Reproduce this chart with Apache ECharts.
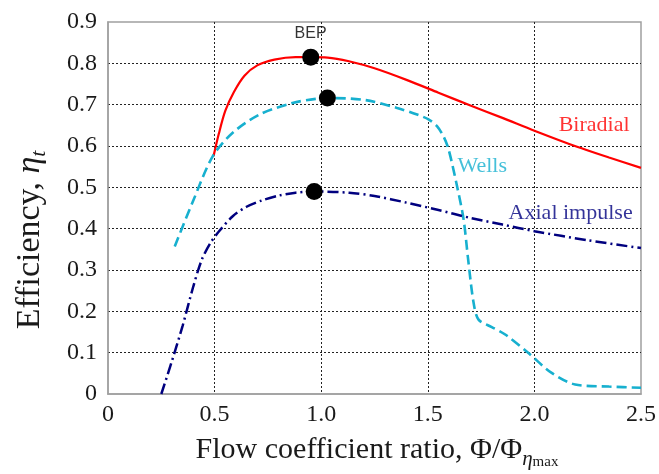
<!DOCTYPE html>
<html>
<head>
<meta charset="utf-8">
<script src="https://cdn.jsdelivr.net/npm/echarts@6/dist/echarts.min.js"></script>
<style>html,body{margin:0;padding:0;background:#fff}#c{width:659px;height:474px}</style>
</head>
<body>
<div id="c"></div>
<script>
// ---- data ----
const xTickLabels = ['0', '0.5', '1.0', '1.5', '2.0', '2.5'];
const yTickLabels = ['0', '0.1', '0.2', '0.3', '0.4', '0.5', '0.6', '0.7', '0.8', '0.9'];

const biradial = [
  [0.495, 0.575], [0.52, 0.630], [0.55, 0.685], [0.59, 0.730], [0.64, 0.770],
  [0.70, 0.795], [0.78, 0.809], [0.88, 0.815], [0.951, 0.815], [1.03, 0.814],
  [1.13, 0.805], [1.25, 0.788], [1.40, 0.760], [1.55, 0.729], [1.70, 0.698],
  [1.85, 0.668], [2.00, 0.637], [2.20, 0.598], [2.35, 0.572], [2.5, 0.547]
];
const wells = [
  [0.313, 0.357], [0.40, 0.468], [0.491, 0.575], [0.585, 0.632], [0.71, 0.676],
  [0.865, 0.704], [0.975, 0.714], [1.05, 0.716], [1.209, 0.711], [1.356, 0.692],
  [1.45, 0.676], [1.505, 0.664], [1.543, 0.648], [1.575, 0.622], [1.598, 0.591],
  [1.637, 0.503], [1.668, 0.422], [1.69, 0.322], [1.715, 0.220], [1.738, 0.180],
  [1.80, 0.162], [1.863, 0.144], [1.972, 0.099], [2.081, 0.051], [2.191, 0.023],
  [2.35, 0.018], [2.5, 0.015]
];
const axialImpulse = [
  [0.25, 0.0], [0.30, 0.080], [0.35, 0.165], [0.40, 0.260], [0.44, 0.325],
  [0.48, 0.365], [0.52, 0.393], [0.585, 0.430], [0.65, 0.453], [0.72, 0.468],
  [0.80, 0.480], [0.88, 0.487], [0.967, 0.490], [1.131, 0.487], [1.25, 0.479],
  [1.40, 0.463], [1.55, 0.445], [1.70, 0.426], [1.85, 0.410], [2.00, 0.394],
  [2.25, 0.372], [2.5, 0.353]
];
const bepPoints = [[0.951, 0.815], [1.029, 0.716], [0.967, 0.490]];

const seriesNames = ['Biradial', 'Wells', 'Axial impulse'];
const bepLabel = 'BEP';
// label anchor positions (data coordinates)
const labelPos = { 'Biradial': [2.28, 0.650], 'Wells': [1.755, 0.552], 'Axial impulse': [2.17, 0.437], 'BEP': [0.950, 0.871] };

// ---- style ----
const RED = '#ff0000', CYAN = '#17b0cf', NAVY = '#00007f';
const SERIF = '"Liberation Serif", "DejaVu Serif", serif';

const chart = echarts.init(document.getElementById('c'), null, { renderer: 'canvas' });

const gridDotted = { show: true, showMinLine: false, showMaxLine: false, lineStyle: { color: '#222', width: 1, type: [2, 2] } };

const labelData = [
  { name: seriesNames[0], value: labelPos['Biradial'], label: { color: RED } },
  { name: seriesNames[1], value: labelPos['Wells'], label: { color: CYAN } },
  { name: seriesNames[2], value: labelPos['Axial impulse'], label: { color: NAVY } }
];

chart.setOption({
  animation: false,
  backgroundColor: '#ffffff',
  grid: { left: 108, right: 16, top: 22, bottom: 80, show: true, borderColor: '#a0a0a0', borderWidth: 1.5, backgroundColor: 'transparent' },
  xAxis: {
    type: 'value', min: 0, max: 2.5, interval: 0.5,
    axisLine: { show: true, lineStyle: { color: '#a0a0a0', width: 1.5 } },
    axisTick: { show: false },
    axisLabel: { margin: 9, fontFamily: SERIF, fontSize: 24, color: '#1a1a1a',
      formatter: v => xTickLabels[Math.round(v / 0.5)] },
    splitLine: gridDotted
  },
  yAxis: {
    type: 'value', min: 0, max: 0.9, interval: 0.1,
    axisLine: { show: true, lineStyle: { color: '#a0a0a0', width: 1.5 } },
    axisTick: { show: false },
    axisLabel: { margin: 11, fontFamily: SERIF, fontSize: 24, color: '#1a1a1a',
      formatter: v => yTickLabels[Math.round(v / 0.1)] },
    splitLine: gridDotted
  },
  series: [
    { name: seriesNames[0], type: 'line', data: biradial, showSymbol: false, smooth: 0.3, z: 3,
      lineStyle: { color: RED, width: 2.2 } },
    { name: seriesNames[1], type: 'line', data: wells, showSymbol: false, smooth: 0.3, z: 3,
      lineStyle: { color: CYAN, width: 2.6, type: [10, 5] } },
    { name: seriesNames[2], type: 'line', data: axialImpulse, showSymbol: false, smooth: 0.3, z: 3,
      lineStyle: { color: NAVY, width: 2.5, type: [11, 4, 2, 4] } },
    { name: 'BEP', type: 'scatter', data: bepPoints, symbol: 'circle', symbolSize: 17, z: 5,
      itemStyle: { color: '#000', opacity: 1 } },
    { name: 'labels', type: 'scatter', data: labelData, symbolSize: 0, z: 6, silent: true,
      label: { show: true, position: 'inside', formatter: p => p.name, fontFamily: SERIF, fontSize: 22 } },
    { name: 'bepText', type: 'scatter', data: [{ name: bepLabel, value: labelPos['BEP'] }], symbolSize: 0, z: 6, silent: true,
      label: { show: true, position: 'inside', formatter: p => p.name, fontFamily: '"Liberation Sans", Arial, sans-serif', fontSize: 16, color: '#000' } }
  ],
  graphic: [
    { type: 'text', x: 377, y: 450, silent: true,
      style: {
        text: '{m|Flow coefficient ratio, Φ/Φ}{s|η}{ss|max}',
        align: 'center', verticalAlign: 'middle',
        rich: {
          m: { fontFamily: SERIF, fontSize: 30, lineHeight: 40, fill: '#1a1a1a', verticalAlign: 'middle' },
          s: { fontFamily: SERIF, fontSize: 21, fontStyle: 'italic', lineHeight: 24, fill: '#1a1a1a', verticalAlign: 'bottom' },
          ss: { fontFamily: SERIF, fontSize: 15, lineHeight: 6, fill: '#1a1a1a', verticalAlign: 'bottom' }
        }
      } },
    { type: 'text', x: 30, y: 240, rotation: Math.PI / 2, silent: true,
      style: {
        text: '{m|Efficiency, }{i|η}{s|t}',
        align: 'center', verticalAlign: 'middle',
        rich: {
          m: { fontFamily: SERIF, fontSize: 34, lineHeight: 40, fill: '#1a1a1a', verticalAlign: 'middle' },
          i: { fontFamily: SERIF, fontSize: 34, fontStyle: 'italic', lineHeight: 40, fill: '#1a1a1a', verticalAlign: 'middle' },
          s: { fontFamily: SERIF, fontSize: 22, fontStyle: 'italic', lineHeight: 22, fill: '#1a1a1a', verticalAlign: 'bottom' }
        }
      } }
  ]
});
</script>
</body>
</html>
